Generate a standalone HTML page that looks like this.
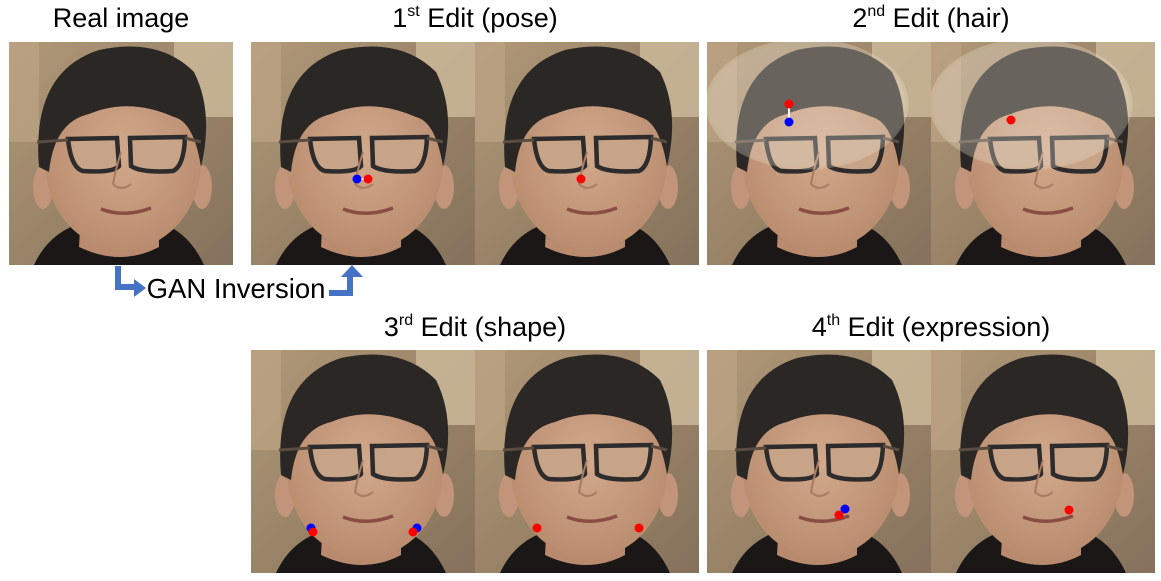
<!DOCTYPE html>
<html><head><meta charset="utf-8"><style>
body{margin:0;width:1161px;height:581px;background:#fff;position:relative;overflow:hidden;font-family:"Liberation Sans",sans-serif}
.t{position:absolute;font-size:27px;color:#000;white-space:nowrap;transform:translateX(-50%)}
.t sup{font-size:16px;vertical-align:11px}
svg.tile{position:absolute}
</style></head><body>
<div class="t" style="left:121px;top:3px">Real image</div>
<div class="t" style="left:475px;top:3px">1<sup>st</sup> Edit (pose)</div>
<div class="t" style="left:931px;top:3px">2<sup>nd</sup> Edit (hair)</div>
<div class="t" style="left:475px;top:312px">3<sup>rd</sup> Edit (shape)</div>
<div class="t" style="left:931px;top:312px">4<sup>th</sup> Edit (expression)</div>
<div class="t" style="left:236px;top:273px;font-size:27.5px">GAN Inversion</div>
<svg width="1161" height="581" style="position:absolute;left:0;top:0">
<path d="M118 266 V287 H135" stroke="#4472c4" stroke-width="6" fill="none"/>
<polygon points="134,279 146,288 134,297" fill="#4472c4"/>
<path d="M329 293 H350 V276" stroke="#4472c4" stroke-width="6" fill="none"/>
<polygon points="341,277 352,265 363,277" fill="#4472c4"/>
</svg>
<script>
const tileX=[9,251,475,707,931,251,475,707,931];
const tileY=[42,42,42,42,42,350,350,350,350];
const tileNames=['real-image','edit1-source','edit1-result','edit2-source','edit2-result','edit3-source','edit3-result','edit4-source','edit4-result'];
const handles=[[],[[106,137]],[],[[82,80]],[],[[60,178],[166,178]],[],[[138,159]],[]];
const targets=[[],[[117,137]],[[106,137]],[[82,62]],[[80,78]],[[62,182],[162,182]],[[62,178],[164,178]],[[132,165]],[[138,160]]];
const mask=[false,false,false,true,true,false,false,false,false];
const ns='http://www.w3.org/2000/svg';
function tile(i){
 const s=document.createElementNS(ns,'svg');
 s.setAttribute('class','tile');s.setAttribute('width',224);s.setAttribute('height',223);
 s.style.left=tileX[i]+'px';s.style.top=tileY[i]+'px';
 
 
 let h=`<defs><linearGradient id="bg${i}" x1="0" y1="0" x2="1" y2="1"><stop offset="0" stop-color="#b09878"/><stop offset="0.5" stop-color="#9a8468"/><stop offset="1" stop-color="#85715c"/></linearGradient>
 <radialGradient id="sk${i}" cx="0.5" cy="0.45" r="0.6"><stop offset="0" stop-color="#d2a98c"/><stop offset="1" stop-color="#b88a6c"/></radialGradient></defs>
 <rect width="224" height="223" fill="url(#bg${i})"/>
 <rect x="165" y="0" width="59" height="75" fill="#cdbb9c" opacity="0.8"/>
 <rect x="0" y="0" width="30" height="100" fill="#bca484" opacity="0.7"/>
 <path d="M25 223 Q40 190 75 180 L150 180 Q180 190 195 223Z" fill="#1b1717"/>
 <ellipse cx="34" cy="145" rx="10" ry="22" fill="#c29479"/><ellipse cx="193" cy="145" rx="10" ry="22" fill="#c29479"/>
 <path d="M72 170 L70 205 Q112 225 150 205 L150 170Z" fill="#b98a6d"/>
 <ellipse cx="114" cy="120" rx="78" ry="88" fill="url(#sk${i})"/>
 <path d="M30 125 Q22 30 90 8 Q150 -5 185 30 Q205 70 192 125 Q185 80 165 75 Q120 55 80 72 Q45 80 40 130Z" fill="#2b2725"/>
 <path d="M59 97 L108 96 L110 124 Q104 131 74 129 Q62 126 59 97Z M121 96 L176 95 Q175 124 164 129 Q132 131 122 124Z" fill="#c7a388" stroke="#2d2b2b" stroke-width="4.5"/>
 <line x1="28" y1="100" x2="59" y2="98" stroke="#5a4c40" stroke-width="3"/><line x1="176" y1="96" x2="192" y2="100" stroke="#5a4c40" stroke-width="3"/>
 <path d="M112 110 Q106 130 104 142 Q112 150 122 142" stroke="#a87c62" stroke-width="2" fill="none"/>
 <path d="M92 167 Q115 176 142 166" stroke="#8a4d44" stroke-width="3.5" fill="none"/>`;
 if(mask[i])h+=`<ellipse cx="100" cy="62" rx="100" ry="64" fill="#f4ece0" opacity="0.3" stroke="#efe2cc" stroke-width="3"/>`;
 handles[i].forEach((p,k)=>{const t=targets[i][k];h+=`<line x1="${p[0]}" y1="${p[1]}" x2="${t[0]}" y2="${t[1]}" stroke="#fff" stroke-width="2"/><circle cx="${p[0]}" cy="${p[1]}" r="4.5" fill="#0000ff"/>`;});
 targets[i].forEach(t=>{h+=`<circle cx="${t[0]}" cy="${t[1]}" r="4.5" fill="#ff0000"/>`;});
 s.innerHTML=h;document.body.appendChild(s);
}
for(let i=0;i<tileX.length;i++)tile(i);
</script>
</body></html>
